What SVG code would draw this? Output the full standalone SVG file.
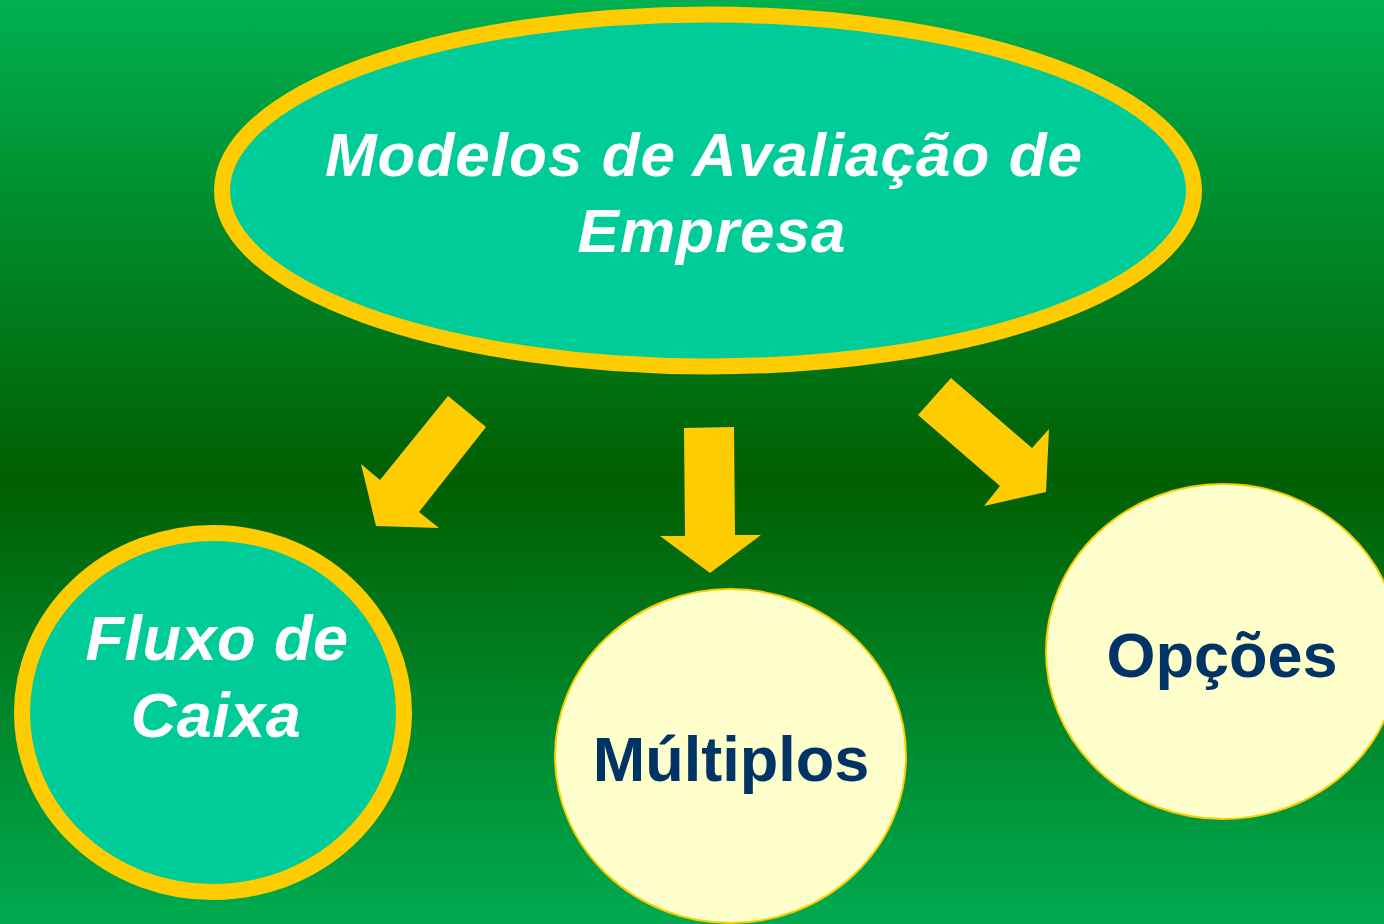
<svg xmlns="http://www.w3.org/2000/svg" width="1384" height="924" viewBox="0 0 1384 924">
  <defs>
    <linearGradient id="bg" x1="0" y1="0" x2="0" y2="1">
      <stop offset="0" stop-color="#00b050"/>
      <stop offset="0.52" stop-color="#005f00"/>
      <stop offset="1" stop-color="#00aa50"/>
    </linearGradient>
  </defs>
  <style>
    .teal { fill: #00cc99; stroke: #ffcc00; stroke-width: 16; }
    .pale { fill: #ffffcc; stroke: #ffcc00; stroke-width: 2; }
    .arrow { fill: #ffcc00; }
    .wt { font-family: "Liberation Sans", Arial, sans-serif; font-weight: bold; font-style: italic; font-size: 62px; fill: #ffffff; text-anchor: middle; }
    .wt2 { font-family: "Liberation Sans", Arial, sans-serif; font-weight: bold; font-style: italic; font-size: 63px; fill: #ffffff; text-anchor: middle; }
    .nv { font-family: "Liberation Sans", Arial, sans-serif; font-weight: bold; font-size: 63px; fill: #003366; text-anchor: middle; }
  </style>
  <rect x="0" y="0" width="1384" height="924" fill="url(#bg)"/>

  <g id="connectors">
    <polygon class="arrow" points="448,396 486,427 419,512 439,528 376,526 361,464 380,480"/>
    <polygon class="arrow" points="684,428 734,427 735,535 761,535 710,573 660,536 685,536"/>
    <polygon class="arrow" points="951,378 1032,448 1049,429 1046,492 984,506 1000,486 918,415"/>
  </g>

  <g id="node-modelos">
    <ellipse class="teal" cx="708" cy="190.5" rx="486" ry="176"/>
    <text class="wt" x="704" y="176" letter-spacing="1">Modelos de Avaliação de</text>
    <text class="wt" x="712" y="252" letter-spacing="1">Empresa</text>
  </g>

  <g id="node-fluxo">
    <ellipse class="teal" cx="213" cy="712.5" rx="191" ry="179.5"/>
    <text class="wt2" x="217" y="660" letter-spacing="0.5">Fluxo de</text>
    <text class="wt2" x="216" y="737" letter-spacing="0.5">Caixa</text>
  </g>

  <g id="node-multiplos">
    <ellipse class="pale" cx="730.5" cy="756" rx="175.5" ry="167"/>
    <text class="nv" x="731" y="781">Múltiplos</text>
  </g>

  <g id="node-opcoes">
    <ellipse class="pale" cx="1223" cy="651.5" rx="177" ry="167.5"/>
    <text class="nv" x="1222" y="677">Opções</text>
  </g>
</svg>
